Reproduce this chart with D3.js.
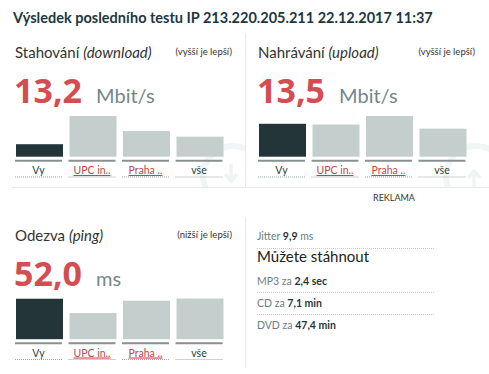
<!DOCTYPE html>
<html>
<head>
<meta charset="utf-8">
<script src="https://cdn.jsdelivr.net/npm/d3@7"></script>
<style>
  body { margin: 0; background: #fff; }
  text { font-family: Lato, "Open Sans", sans-serif; }
</style>
</head>
<body>
<div id="chart"></div>
<script>
// values
const categories = ["Vy", "UPC in..", "Praha ..", "vše"];
const downloadValues = [13.2, 43.0, 27.1, 21.2];
const uploadValues = [13.5, 13.2, 16.7, 11.5];
const pingValues = [52.0, 33.6, 49.4, 52.3];
const headlineValues = ["13,2", "13,5", "52,0"];
const extraLines = [
  { pre: "MP3 za ", val: "2,4 sec" },
  { pre: "CD za ", val: "7,1 min" },
  { pre: "DVD za ", val: "47,4 min" }
];

const width = 489, height = 374;
const svg = d3.select("#chart").append("svg").attr("width", width).attr("height", height);

svg.append("text").attr("x", 13).attr("y", 23)
  .attr("font-size", 14.5).attr("font-weight", "bold").attr("fill", "#1d3742")
  .text("Výsledek posledního testu IP 213.220.205.211 22.12.2017 11:37");

// panel frame lines
const frame = svg.append("g").attr("stroke", "#e6e9ea").attr("stroke-width", 1);
frame.append("line").attr("x1", 12).attr("x2", 489).attr("y1", 187.5).attr("y2", 187.5);
frame.append("line").attr("x1", 245.5).attr("x2", 245.5).attr("y1", 33).attr("y2", 187);
frame.append("line").attr("x1", 245.5).attr("x2", 245.5).attr("y1", 217).attr("y2", 368);

// faint watermark icons
const defs = svg.append("defs");
defs.append("clipPath").attr("id", "clipL").append("rect").attr("x", 12).attr("y", 33).attr("width", 233).attr("height", 154);
defs.append("clipPath").attr("id", "clipR").append("rect").attr("x", 246).attr("y", 33).attr("width", 243).attr("height", 154);
function watermark(cx, cy, clip, up) {
  const g = svg.append("g").attr("clip-path", "url(#" + clip + ")");
  g.append("circle").attr("cx", cx).attr("cy", cy).attr("r", 30)
    .attr("fill", "none").attr("stroke", "#f0f5f6").attr("stroke-width", 6);
  const dir = up ? -1 : 1;
  g.append("line").attr("x1", cx - 2).attr("x2", cx - 2).attr("y1", cy - 12 * dir).attr("y2", cy + 4 * dir)
    .attr("stroke", "#eef3f4").attr("stroke-width", 3.5);
  g.append("path").attr("d", `M${cx - 8},${cy - 2 * dir} L${cx - 2},${cy + 5 * dir} L${cx + 4},${cy - 2 * dir}`)
    .attr("fill", "none").attr("stroke", "#eef3f4").attr("stroke-width", 3.5);
}
watermark(233, 176, "clipL", false);
watermark(476, 176, "clipR", true);

function panel(ox, oy, title, sub, note, values, headline, unit) {
  const g = svg.append("g").attr("transform", `translate(${ox},${oy})`);

  const t = g.append("text").attr("x", 15).attr("y", 23).attr("font-size", 15).attr("fill", "#333");
  t.append("tspan").text(title + " ");
  t.append("tspan").attr("font-style", "italic").text(sub);

  g.append("text").attr("x", 232).attr("y", 20).attr("text-anchor", "end")
    .attr("font-size", 9.5).attr("fill", "#333").text(note);

  const h = g.append("text").attr("x", 14).attr("y", 68);
  h.append("tspan").attr("font-family", "'Open Sans', sans-serif").attr("font-size", 34)
    .attr("font-weight", "bold").attr("fill", "#d34d52").text(headline);
  h.append("tspan").attr("dx", 14).attr("font-size", 20).attr("fill", "#75868b").text(unit);

  const x = d3.scaleBand().domain(categories).range([16, 223.5]).paddingInner(0.1215);
  const y = d3.scaleLinear().domain([0, d3.max(values)]).range([121.7, 81]);

  g.selectAll("rect.bar").data(values).join("rect")
    .attr("class", "bar")
    .attr("x", (d, i) => x(categories[i]))
    .attr("y", d => y(d))
    .attr("width", x.bandwidth())
    .attr("height", d => y(0) - y(d))
    .attr("fill", (d, i) => i === 0 ? "#243539" : "#c3cecd");

  g.selectAll("line.base").data(categories).join("line")
    .attr("class", "base")
    .attr("x1", d => x(d) - 1).attr("x2", d => x(d) + x.bandwidth() - 1)
    .attr("y1", 125.7).attr("y2", 125.7)
    .attr("stroke", "#8a8f90").attr("stroke-width", 2);

  g.selectAll("line.dot").data(categories).join("line")
    .attr("class", "dot")
    .attr("x1", d => x(d) - 1).attr("x2", d => x(d) + x.bandwidth() - 1)
    .attr("y1", 142).attr("y2", 142)
    .attr("stroke", "#9aa3a5").attr("stroke-width", 1).attr("stroke-dasharray", "1,1");

  g.selectAll("text.cat").data(categories).join("text")
    .attr("class", "cat")
    .attr("x", d => x(d) + x.bandwidth() / 2 - 1)
    .attr("y", 139)
    .attr("text-anchor", "middle")
    .attr("font-size", 10.5)
    .attr("fill", (d, i) => (i === 1 || i === 2) ? "#c0474d" : "#2b3f45")
    .attr("text-decoration", (d, i) => (i === 1 || i === 2) ? "underline" : null)
    .text(d => d);
}

panel(0, 35, "Stahování", "(download)", "(vyšší je lepší)", downloadValues, headlineValues[0], "Mbit/s");
panel(243, 35, "Nahrávání", "(upload)", "(vyšší je lepší)", uploadValues, headlineValues[1], "Mbit/s");
panel(0, 217.5, "Odezva", "(ping)", "(nižší je lepší)", pingValues, headlineValues[2], "ms");

svg.append("text").attr("x", 373).attr("y", 201).attr("font-size", 9).attr("fill", "#333").text("REKLAMA");

// jitter and download times
const info = svg.append("g").attr("transform", "translate(257,0)");
const jt = info.append("text").attr("x", 0).attr("y", 240).attr("font-size", 10.5).attr("fill", "#6d7d82");
jt.append("tspan").text("Jitter ");
jt.append("tspan").attr("font-weight", "bold").attr("fill", "#1f3640").text("9,9");
jt.append("tspan").text(" ms");

info.append("text").attr("x", 0).attr("y", 262).attr("font-size", 15).attr("fill", "#222").text("Můžete stáhnout");

const rowY = d3.scalePoint().domain(extraLines.map(d => d.pre)).range([285, 329]);
extraLines.forEach(d => {
  const tx = info.append("text").attr("x", 0).attr("y", rowY(d.pre)).attr("font-size", 10.5).attr("fill", "#6d7d82");
  tx.append("tspan").text(d.pre);
  tx.append("tspan").attr("font-weight", "bold").attr("fill", "#1f3640").text(d.val);
});

const sepY = [248, 292, 314];
info.selectAll("line.sep").data(sepY).join("line")
  .attr("class", "sep")
  .attr("x1", 0).attr("x2", 178)
  .attr("y1", d => d + 0.5).attr("y2", d => d + 0.5)
  .attr("stroke", "#c8cdce").attr("stroke-dasharray", "1,1");
</script>
</body>
</html>
